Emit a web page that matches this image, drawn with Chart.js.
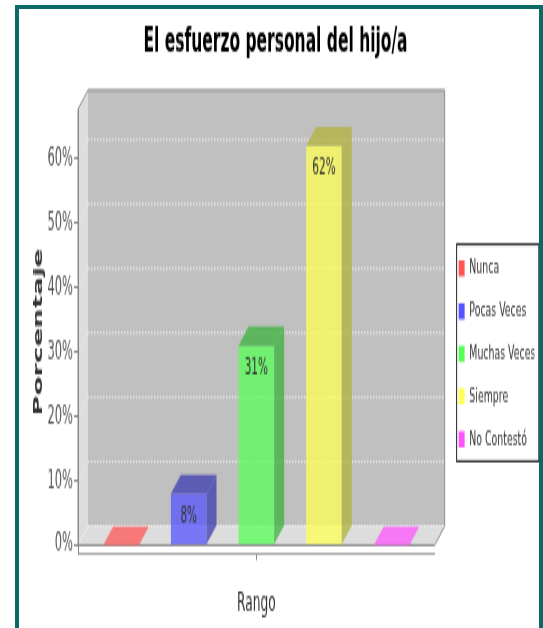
<!DOCTYPE html>
<html>
<head>
<meta charset="utf-8">
<script src="https://cdn.jsdelivr.net/npm/chart.js@4.4.1/dist/chart.umd.min.js"></script>
<style>
    body { margin: 0; background: #fff; overflow: hidden; }
    #chart { position: absolute; left: 0; top: 0; transform: scaleY(2.1507); transform-origin: 0 0; }
    #frame { position: absolute; left: 15px; top: 5px; width: 520px; height: 700px; border: 4px solid #0a6b66; pointer-events: none; }
</style>
</head>
<body>
<canvas id="chart" width="543" height="292"></canvas>
<div id="frame"></div>
<script>
const categories = [''];
const seriesNames = ['Nunca', 'Pocas Veces', 'Muchas Veces', 'Siempre', 'No Contestó'];
const percentages = [0, 8, 31, 62, 0];
const seriesColors = ['#ff5555', '#5555ff', '#55ff55', '#ffff55', '#ff55ff'];
const yTicks = [0, 10, 20, 30, 40, 50, 60];

const fontFamily = 'DejaVu Sans';
const barAlpha = 0.75;
const depth = { x: 10, y: 8.8 };

const rgba = (hex, factor, alpha) => {
    const n = parseInt(hex.slice(1), 16);
    const r = Math.floor(((n >> 16) & 255) * factor);
    const g = Math.floor(((n >> 8) & 255) * factor);
    const b = Math.floor((n & 255) * factor);
    return `rgba(${r},${g},${b},${alpha})`;
}

const fillPoly = (ctx, points, color) => {
    ctx.beginPath();
    points.forEach(([x, y], i) => i ? ctx.lineTo(x, y) : ctx.moveTo(x, y));
    ctx.closePath();
    ctx.fillStyle = color;
    ctx.fill();
}

// walls, floor, dotted grid on the back wall and the legend frame
const plotBox = {
    id: 'plotBox',
    beforeDraw(chart) {
        const { ctx, chartArea: a } = chart;
        const y = chart.scales.y;
        const floorY = y.getPixelForValue(0);
        const dx = depth.x, dy = depth.y;
        ctx.save();

        fillPoly(ctx, [[a.left, a.top], [a.left + dx, a.top - dy], [a.left + dx, floorY - dy], [a.left, floorY]], '#dddddd');
        fillPoly(ctx, [[a.left + dx, a.top - dy], [a.right + dx, a.top - dy], [a.right + dx, floorY - dy], [a.left + dx, floorY - dy]], '#c0c0c0');
        fillPoly(ctx, [[a.left, floorY], [a.left + dx, floorY - dy], [a.right + dx, floorY - dy], [a.right, floorY]], '#dddddd');

        ctx.setLineDash([1.5, 1.5]);
        ctx.lineWidth = 0.8;
        yTicks.forEach(t => {
            const py = y.getPixelForValue(t);
            ctx.strokeStyle = 'rgba(255,255,255,0.95)';
            ctx.beginPath();
            ctx.moveTo(a.left + dx, py - dy);
            ctx.lineTo(a.right + dx, py - dy);
            ctx.stroke();
            ctx.strokeStyle = 'rgba(255,255,255,0.6)';
            ctx.beginPath();
            ctx.moveTo(a.left, py);
            ctx.lineTo(a.left + dx, py - dy);
            ctx.stroke();
        });

        ctx.setLineDash([]);
        ctx.lineWidth = 1;
        ctx.strokeStyle = '#8c8c8c';
        ctx.beginPath();
        ctx.moveTo(a.left, floorY);
        ctx.lineTo(a.left, a.top);
        ctx.lineTo(a.left + dx, a.top - dy);
        ctx.lineTo(a.right + dx, a.top - dy);
        ctx.lineTo(a.right + dx, floorY - dy);
        ctx.lineTo(a.right, floorY);
        ctx.closePath();
        ctx.stroke();

        const boxes = chart.legend.legendHitBoxes;
        if (boxes && boxes.length) {
            const last = boxes[boxes.length - 1];
            const left = Math.min(...boxes.map(b => b.left)) - 2.5;
            const right = Math.max(...boxes.map(b => b.left + b.width)) + 3;
            const top = boxes[0].top - 7;
            const bottom = last.top + last.height + 5;
            ctx.fillStyle = '#ffffff';
            ctx.fillRect(left, top, right - left, bottom - top);
            ctx.strokeStyle = '#222222';
            ctx.strokeRect(left + 0.5, top + 0.5, right - left, bottom - top);
        }
        ctx.restore();
    }
};

// side and top faces of each bar, plus the value printed on its front
const bars3d = {
    id: 'bars3d',
    afterDatasetsDraw(chart) {
        const { ctx } = chart;
        const dx = depth.x, dy = depth.y;
        ctx.save();
        chart.data.datasets.forEach((ds, i) => {
            const meta = chart.getDatasetMeta(i);
            meta.data.forEach((bar, j) => {
                const { x, y, base, width } = bar.getProps(['x', 'y', 'base', 'width'], true);
                const value = ds.data[j];
                const l = x - width / 2, r = x + width / 2;
                if (value > 0) {
                    const dark = rgba(seriesColors[i], 0.7, barAlpha);
                    fillPoly(ctx, [[r, y], [r + dx, y - dy], [r + dx, base - dy], [r, base]], dark);
                    fillPoly(ctx, [[l, y], [l + dx, y - dy], [r + dx, y - dy], [r, y]], dark);
                    ctx.fillStyle = '#333333';
                    ctx.font = `10.5px "${fontFamily}"`;
                    ctx.textAlign = 'center';
                    ctx.textBaseline = 'middle';
                    ctx.fillText(value + '%', x, y + 10.7);
                } else {
                    fillPoly(ctx, [[l, base], [l + dx, base - dy], [r + dx, base - dy], [r, base]], rgba(seriesColors[i], 1, barAlpha));
                }
            });
        });
        ctx.restore();
    }
};

const datasets = seriesNames.map((name, i) => ({
    label: name,
    data: [percentages[i]],
    backgroundColor: rgba(seriesColors[i], 1, barAlpha),
    borderWidth: 0,
    categoryPercentage: 0.948,
    barPercentage: 0.527
}));

new Chart(document.getElementById('chart'), {
    type: 'bar',
    data: { labels: categories, datasets: datasets },
    plugins: [plotBox, bars3d],
    options: {
        responsive: false,
        animation: false,
        events: [],
        layout: { padding: { left: 16.5, right: 8.5, top: 0, bottom: 0 } },
        plugins: {
            tooltip: { enabled: false },
            title: {
                display: true,
                text: 'El esfuerzo personal del hijo/a',
                color: '#000000',
                font: { family: fontFamily, size: 15.5, weight: 'bold', lineHeight: 1.2 },
                padding: { top: 10.9, bottom: 21.2 }
            },
            legend: {
                position: 'right',
                align: 'center',
                title: { display: true, text: '', font: { size: 1, lineHeight: 1 }, padding: { top: 36, bottom: 0 } },
                labels: {
                    font: { family: fontFamily, size: 9.4 },
                    color: '#333333',
                    boxWidth: 6,
                    boxHeight: 7.5,
                    padding: 10.46,
                    generateLabels: (chart) => chart.data.datasets.map((ds, i) => ({
                        text: ds.label,
                        fillStyle: seriesColors[i],
                        strokeStyle: seriesColors[i],
                        lineWidth: 0,
                        hidden: false,
                        datasetIndex: i,
                        fontColor: '#333333'
                    }))
                }
            }
        },
        scales: {
            x: {
                afterFit: (axis) => { axis.height = 34.1; },
                grid: { drawOnChartArea: false, drawTicks: true, tickLength: 2.5, color: '#888888', offset: false },
                border: { display: true, color: '#a0a0a0', width: 1 },
                ticks: { display: true, font: { family: fontFamily, size: 10 } },
                title: {
                    display: true,
                    text: 'Rango',
                    color: '#333333',
                    font: { family: fontFamily, size: 12.2, lineHeight: 1.2 },
                    padding: { top: 0, bottom: 3.9 }
                }
            },
            y: {
                min: -1.47,
                max: 67.7,
                afterBuildTicks: (axis) => { axis.ticks = yTicks.map(v => ({ value: v })); },
                afterFit: (axis) => { axis.width = 61.5; },
                grid: { drawOnChartArea: false, drawTicks: true, tickLength: 4, color: '#888888' },
                border: { display: true, color: '#888888', width: 1 },
                ticks: {
                    padding: 1,
                    color: '#555555',
                    font: { family: fontFamily, size: 11.5 },
                    callback: (v) => v + '%'
                },
                title: {
                    display: true,
                    text: 'Porcentaje',
                    color: '#333333',
                    font: { family: fontFamily, size: 12.8, weight: 'bold', lineHeight: 1.2 },
                    padding: { top: 14.1, bottom: 0 }
                }
            },
            yGap: {
                axis: 'y',
                position: 'right',
                display: true,
                grid: { display: false },
                border: { display: false },
                ticks: { display: false },
                afterFit: (axis) => { axis.width = 13.5; }
            }
        }
    }
});
</script>
</body>
</html>
